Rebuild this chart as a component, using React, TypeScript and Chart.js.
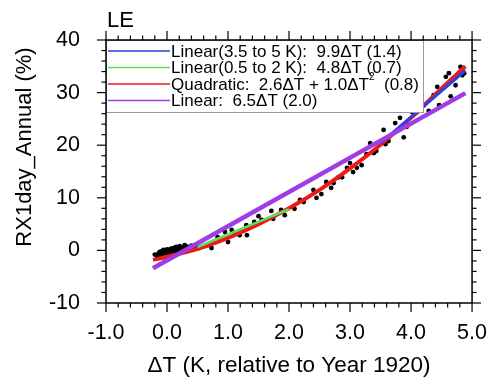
import React, { useEffect, useRef } from 'react';
import { Chart, registerables } from 'chart.js';

Chart.register(...registerables);

// ---- data ----
const dtValues = [
  -0.2, -0.16, -0.14, -0.13, -0.12, -0.11, -0.1, -0.09, -0.08, -0.07, -0.06, -0.05, -0.04, -0.03,
  -0.02, -0.01, 0.0, 0.01, 0.02, 0.03, 0.04, 0.05, 0.06, 0.07, 0.08, 0.09, 0.1, 0.11, 0.12, 0.13,
  0.14, 0.16, 0.17, 0.18, 0.2, 0.21, 0.23, 0.25, 0.27, 0.3, 0.33, 0.36, 0.4, 0.44, 0.48,
  0.15, 0.29, 0.53, 0.67, 0.73, 0.83, 0.95, 1.0, 1.06, 1.11, 1.19, 1.3, 1.31, 1.43, 1.5, 1.55,
  1.71, 1.74, 1.87, 1.93, 2.09, 2.18, 2.24, 2.4, 2.45, 2.53, 2.61, 2.69, 2.73, 2.81, 2.87, 2.95,
  3.0, 3.05, 3.11, 3.19, 3.27, 3.33, 3.39, 3.43, 3.55, 3.58, 3.63, 3.74, 3.82, 3.88, 3.93, 4.02,
  4.07, 4.1, 4.21, 4.29, 4.37, 4.43, 4.46, 4.57, 4.62, 4.65, 4.73, 4.81, 4.84, 4.87,
];
const rxValues = [
  -0.8, -1.2, -0.6, -1.4, -0.3, -0.9, -1.1, -0.2, -0.7, -1.3, 0.1, -0.5, -0.9, -0.1,
  -0.6, -1.0, 0.2, -0.4, -0.8, 0.0, -0.3, -1.1, 0.3, -0.5, -0.2, 0.4, -0.7, 0.1, -0.3, 0.5,
  0.0, -0.4, 0.6, 0.2, -0.1, 0.8, 0.3, -0.2, 0.5, 0.1, 0.7, 0.2, 0.9, 0.4, 1.0,
  0.65, 1.0, 0.45, 1.0, 0.45, 2.5, 3.5, 1.6, 3.9, 3.3, 2.9, 4.8, 2.9, 5.4, 6.5, 5.8,
  7.5, 6.0, 7.7, 6.7, 7.9, 9.6, 9.2, 11.5, 10.0, 10.7, 13.0, 11.9, 12.8, 13.9, 13.9, 15.7,
  16.6, 14.9, 15.7, 16.2, 18.3, 20.4, 18.5, 18.9, 22.9, 20.2, 20.8, 24.2, 25.2, 21.5, 23.5, 26.3,
  28.6, 26.3, 27.6, 26.5, 29.5, 31.1, 27.6, 33.0, 33.7, 29.3, 31.4, 34.9, 33.3, 33.7,
];

const linHighX = [3.5, 4.89];
const linHighY = [20.4, 34.2];
const linLowX = [0.5, 2.0];
const linLowY = [0.65, 7.85];
const quadX = [-0.23, 0.0, 0.5, 1.0, 1.5, 2.0, 2.5, 3.0, 3.5, 4.0, 4.5, 4.89];
const quadY = [-1.8, -1.2, 0.3, 2.4, 5.0, 8.0, 11.5, 15.6, 20.1, 25.2, 30.8, 35.0];
const linAllX = [-0.23, 4.89];
const linAllY = [-3.4, 29.9];

const xMajorTicks = [-1, 0, 1, 2, 3, 4, 5];
const yMajorTicks = [-10, 0, 10, 20, 30, 40];
const xMinorStep = 0.2;
const yMinorStep = 2;

const panelTitle = 'LE';
const xTitle = '\u0394T (K, relative to Year 1920)';
const yTitle = 'RX1day_Annual (%)';
const legendRows = [
  { color: 'rgb(45,65,225)', parts: ['Linear(3.5 to 5 K):  9.9\u0394T (1.4)'] },
  { color: 'rgb(90,225,90)', parts: ['Linear(0.5 to 2 K):  4.8\u0394T (0.7)'] },
  { color: 'rgb(235,25,25)', parts: ['Quadratic:  2.6\u0394T + 1.0\u0394T', '2', '  (0.8)'] },
  { color: 'rgb(160,60,230)', parts: ['Linear:  6.5\u0394T (2.0)'] },
];

const FONT = '"Liberation Sans", Arial, Helvetica, sans-serif';

const toPts = (xs: number[], ys: number[]) => xs.map((x, i) => ({ x, y: ys[i] }));

const decorPlugin = {
  id: 'decor',
  afterDraw(chart: any) {
    const { ctx, chartArea: a, scales } = chart;
    const xs = scales.x;
    const ys = scales.y;
    ctx.save();

    // legend box
    const lx0 = a.left;
    const ly0 = a.top;
    const lx1 = 423;
    const ly1 = 112;
    ctx.fillStyle = '#fff';
    ctx.fillRect(lx0, ly0, lx1 - lx0, ly1 - ly0);
    ctx.strokeStyle = '#9a9a9a';
    ctx.lineWidth = 1;
    ctx.strokeRect(lx0 + 0.5, ly0 + 0.5, lx1 - lx0, ly1 - ly0);
    const rowY = [51, 67.5, 84, 100.5];
    legendRows.forEach((row, i) => {
      const yy = rowY[i];
      ctx.strokeStyle = row.color;
      ctx.lineWidth = 1.5;
      ctx.beginPath();
      ctx.moveTo(108, yy);
      ctx.lineTo(170, yy);
      ctx.stroke();
      ctx.fillStyle = '#000';
      ctx.textBaseline = 'middle';
      ctx.textAlign = 'left';
      let tx = 171;
      row.parts.forEach((p, k) => {
        const sup = row.parts.length === 3 && k === 1;
        ctx.font = sup ? `10px ${FONT}` : `17px ${FONT}`;
        ctx.fillText(p, tx, sup ? yy - 7 : yy + 1);
        tx += ctx.measureText(p).width;
      });
    });

    // frame
    ctx.strokeStyle = '#000';
    ctx.lineWidth = 1.5;
    ctx.strokeRect(a.left, a.top, a.right - a.left, a.bottom - a.top);

    const line = (x0: number, y0: number, x1: number, y1: number) => {
      ctx.beginPath();
      ctx.moveTo(x0, y0);
      ctx.lineTo(x1, y1);
      ctx.stroke();
    };
    ctx.lineWidth = 1.2;
    const xmin = xMajorTicks[0];
    const xmax = xMajorTicks[xMajorTicks.length - 1];
    const nX = Math.round((xmax - xmin) / xMinorStep);
    for (let i = 0; i <= nX; i++) {
      const v = xmin + i * xMinorStep;
      const major = xMajorTicks.some((t) => Math.abs(t - v) < 1e-6);
      const len = major ? 9 : 4.5;
      const px = xs.getPixelForValue(v);
      line(px, a.bottom, px, a.bottom + len);
      line(px, a.top, px, a.top - len);
    }
    const ymin = yMajorTicks[0];
    const ymax = yMajorTicks[yMajorTicks.length - 1];
    const nY = Math.round((ymax - ymin) / yMinorStep);
    for (let i = 0; i <= nY; i++) {
      const v = ymin + i * yMinorStep;
      const major = yMajorTicks.some((t) => Math.abs(t - v) < 1e-6);
      const len = major ? 9 : 4.5;
      const py = ys.getPixelForValue(v);
      line(a.left, py, a.left - len, py);
      line(a.right, py, a.right + len, py);
    }

    // titles
    ctx.fillStyle = '#000';
    ctx.font = `22px ${FONT}`;
    ctx.textAlign = 'left';
    ctx.textBaseline = 'alphabetic';
    ctx.fillText(panelTitle, 107, 27);

    ctx.textAlign = 'center';
    ctx.textBaseline = 'middle';
    ctx.font = `22.5px ${FONT}`;
    ctx.fillText(xTitle, (a.left + a.right) / 2, 366);

    ctx.save();
    ctx.translate(25, 147);
    ctx.rotate(-Math.PI / 2);
    ctx.font = `22px ${FONT}`;
    ctx.fillText(yTitle, 0, 0);
    ctx.restore();

    ctx.restore();
  },
};

export default function App() {
  const canvasRef = useRef<HTMLCanvasElement | null>(null);

  useEffect(() => {
    const canvas = canvasRef.current;
    if (!canvas) return;
    const chart = new Chart(canvas, {
      type: 'scatter',
      data: {
        datasets: [
          {
            label: 'Linear',
            data: toPts(linAllX, linAllY),
            showLine: true,
            borderColor: 'rgb(160,60,230)',
            borderWidth: 4.5,
            pointRadius: 0,
            order: 1,
          },
          {
            label: 'Linear(0.5 to 2 K)',
            data: toPts(linLowX, linLowY),
            showLine: true,
            borderColor: 'rgb(90,225,90)',
            borderWidth: 2.5,
            pointRadius: 0,
            order: 2,
          },
          {
            label: 'Linear(3.5 to 5 K)',
            data: toPts(linHighX, linHighY),
            showLine: true,
            borderColor: 'rgb(45,65,225)',
            borderWidth: 3,
            pointRadius: 0,
            order: 3,
          },
          {
            label: 'Quadratic',
            data: toPts(quadX, quadY),
            showLine: true,
            borderColor: 'rgb(235,25,25)',
            borderWidth: 4,
            pointRadius: 0,
            cubicInterpolationMode: 'monotone',
            order: 4,
          },
          {
            label: 'data',
            data: toPts(dtValues, rxValues),
            showLine: false,
            backgroundColor: '#000',
            borderColor: '#000',
            borderWidth: 0,
            pointRadius: 2.4,
            order: 5,
          },
        ],
      },
      options: {
        responsive: true,
        maintainAspectRatio: false,
        animation: false,
        layout: { padding: { left: 0, right: 17, top: 40, bottom: 0 } },
        plugins: { legend: { display: false }, tooltip: { enabled: false }, title: { display: false } },
        scales: {
          x: {
            type: 'linear',
            min: xMajorTicks[0],
            max: xMajorTicks[xMajorTicks.length - 1],
            grid: { display: false, drawTicks: false },
            border: { display: false },
            afterBuildTicks: (s: any) => {
              s.ticks = xMajorTicks.map((v) => ({ value: v }));
            },
            afterFit: (s: any) => {
              s.height = 76;
            },
            ticks: {
              autoSkip: false,
              maxRotation: 0,
              minRotation: 0,
              padding: 17,
              color: '#000',
              font: { family: FONT, size: 21.5 },
              callback: (v: any) => Number(v).toFixed(1),
            },
          },
          y: {
            type: 'linear',
            min: yMajorTicks[0],
            max: yMajorTicks[yMajorTicks.length - 1],
            grid: { display: false, drawTicks: false },
            border: { display: false },
            afterBuildTicks: (s: any) => {
              s.ticks = yMajorTicks.map((v) => ({ value: v }));
            },
            afterFit: (s: any) => {
              s.width = 106;
            },
            ticks: {
              autoSkip: false,
              padding: 26,
              color: '#000',
              font: { family: FONT, size: 21.5 },
              callback: (v: any) => String(v),
            },
          },
        },
      },
      plugins: [decorPlugin],
    } as any);
    return () => chart.destroy();
  }, []);

  return (
    <div style={{ position: 'absolute', left: 0, top: 0, width: 504, height: 379, background: '#fff' }}>
      <canvas ref={canvasRef} />
    </div>
  );
}
